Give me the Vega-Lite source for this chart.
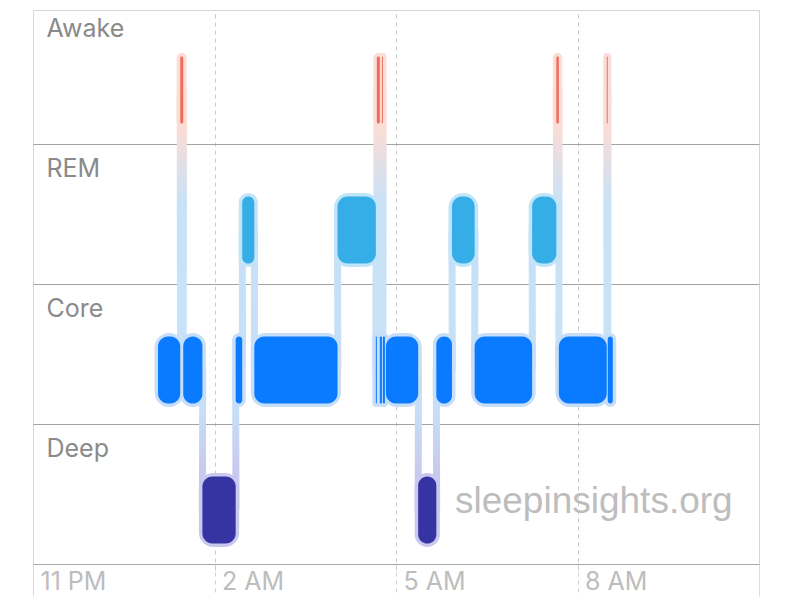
{
  "$schema": "https://vega.github.io/schema/vega-lite/v6.json",
  "width": 726,
  "height": 554,
  "autosize": {"type": "none"},
  "padding": {"left": 33, "top": 10, "right": 53, "bottom": 41},
  "background": "white",
  "config": {"view": {"stroke": "#d6d6d6", "strokeWidth": 1}, "font": "Inter"},
  "data": {
    "values": [
      {"stage": "Core", "start": "2024-01-02T01:04:00", "end": "2024-01-02T01:26:00"},
      {"stage": "Awake", "start": "2024-01-02T01:26:00", "end": "2024-01-02T01:29:00"},
      {"stage": "Core", "start": "2024-01-02T01:29:00", "end": "2024-01-02T01:48:00"},
      {"stage": "Deep", "start": "2024-01-02T01:48:00", "end": "2024-01-02T02:21:00"},
      {"stage": "Core", "start": "2024-01-02T02:21:00", "end": "2024-01-02T02:27:30"},
      {"stage": "REM", "start": "2024-01-02T02:27:30", "end": "2024-01-02T02:39:30"},
      {"stage": "Core", "start": "2024-01-02T02:39:30", "end": "2024-01-02T04:02:00"},
      {"stage": "REM", "start": "2024-01-02T04:02:00", "end": "2024-01-02T04:40:00"},
      {"stage": "Core", "start": "2024-01-02T04:40:00", "end": "2024-01-02T04:41:00"},
      {"stage": "Awake", "start": "2024-01-02T04:41:00", "end": "2024-01-02T04:44:00"},
      {"stage": "Core", "start": "2024-01-02T04:44:00", "end": "2024-01-02T04:46:00"},
      {"stage": "Awake", "start": "2024-01-02T04:46:00", "end": "2024-01-02T04:47:00"},
      {"stage": "Core", "start": "2024-01-02T04:47:00", "end": "2024-01-02T04:49:00"},
      {"stage": "Core", "start": "2024-01-02T04:50:00", "end": "2024-01-02T05:22:00"},
      {"stage": "Deep", "start": "2024-01-02T05:22:00", "end": "2024-01-02T05:40:00"},
      {"stage": "Core", "start": "2024-01-02T05:40:00", "end": "2024-01-02T05:55:30"},
      {"stage": "REM", "start": "2024-01-02T05:55:30", "end": "2024-01-02T06:18:00"},
      {"stage": "Core", "start": "2024-01-02T06:18:00", "end": "2024-01-02T07:15:00"},
      {"stage": "REM", "start": "2024-01-02T07:15:00", "end": "2024-01-02T07:39:00"},
      {"stage": "Awake", "start": "2024-01-02T07:39:00", "end": "2024-01-02T07:41:30"},
      {"stage": "Core", "start": "2024-01-02T07:41:30", "end": "2024-01-02T08:29:00"},
      {"stage": "Awake", "start": "2024-01-02T08:29:00", "end": "2024-01-02T08:30:00"},
      {"stage": "Core", "start": "2024-01-02T08:30:00", "end": "2024-01-02T08:35:00"}
    ]
  },
  "encoding": {
    "x": {
      "field": "start",
      "type": "temporal",
      "scale": {"domain": [{"year": 2024, "month": 1, "date": 1, "hours": 23}, {"year": 2024, "month": 1, "date": 2, "hours": 11}]},
      "axis": {
        "title": null,
        "values": [
          {"year": 2024, "month": 1, "date": 1, "hours": 23},
          {"year": 2024, "month": 1, "date": 2, "hours": 2},
          {"year": 2024, "month": 1, "date": 2, "hours": 5},
          {"year": 2024, "month": 1, "date": 2, "hours": 8},
          {"year": 2024, "month": 1, "date": 2, "hours": 11}
        ],
        "labelExpr": "hours(datum.value) === 11 ? '' : timeFormat(datum.value, '%-I %p')",
        "domain": true,
        "domainColor": "#a8a8a8",
        "ticks": true,
        "tickSize": 32,
        "tickColor": "#d0d0d0",
        "tickDash": {"condition": {"test": "hours(datum.value) === 23 || hours(datum.value) === 11", "value": [1, 0]}, "value": [4, 4]},
        "grid": true,
        "gridColor": "#c8c8c8",
        "gridDash": [4, 4],
        "gridOpacity": {"condition": {"test": "hours(datum.value) === 23 || hours(datum.value) === 11", "value": 0}, "value": 1},
        "labelAlign": "left",
        "labelBaseline": "alphabetic",
        "labelOffset": 7,
        "labelPadding": -7,
        "labelColor": "#bdbdbd",
        "labelFont": "Inter",
        "labelFontSize": 25,
        "labelFontWeight": 400,
        "labelOverlap": false,
        "labelBound": false,
        "labelFlush": false
      }
    },
    "y": {
      "field": "stage",
      "type": "nominal",
      "scale": {"domain": ["Awake", "REM", "Core", "Deep"], "range": [-6, 554]},
      "axis": {
        "title": null,
        "domain": false,
        "ticks": false,
        "bandPosition": 0,
        "grid": true,
        "gridColor": "#a3a3a3",
        "gridOpacity": {"condition": {"test": "datum.value === 'Awake'", "value": 0}, "value": 1},
        "labelAlign": "left",
        "labelBaseline": "alphabetic",
        "labelPadding": -13,
        "labelOffset": -37,
        "labelColor": "#8a8a8a",
        "labelFont": "Inter",
        "labelFontSize": 25,
        "labelBound": false,
        "labelOverlap": false
      }
    }
  },
  "layer": [
    {
      "transform": [
        {"window": [{"op": "lag", "field": "stage", "as": "prev"}], "sort": [{"field": "start", "order": "ascending"}]},
        {"filter": "datum.prev != null && datum.prev !== datum.stage"}
      ],
      "mark": {"type": "rule", "strokeWidth": 7, "strokeCap": "butt", "x2Offset": 0.3, "yOffset": 16, "y2Offset": 16},
      "encoding": {
        "x2": {"field": "start"},
        "y2": {"field": "prev"},
        "stroke": {
          "condition": [
            {"test": "(datum.stage === 'Awake' && datum.prev === 'REM') || (datum.stage === 'REM' && datum.prev === 'Awake')",
             "value": {"gradient": "linear", "x1": 0, "y1": 0, "x2": 0, "y2": 1, "stops": [{"offset": 0, "color": "#fcdcd6"}, {"offset": 0.25, "color": "#fcdcd6"}, {"offset": 0.8, "color": "#c8e2f7"}, {"offset": 1, "color": "#c8e2f7"}]}},
            {"test": "datum.stage === 'Awake' || datum.prev === 'Awake'",
             "value": {"gradient": "linear", "x1": 0, "y1": 0, "x2": 0, "y2": 1, "stops": [{"offset": 0, "color": "#fcdcd6"}, {"offset": 0.13, "color": "#fcdcd6"}, {"offset": 0.4, "color": "#c8e2f7"}, {"offset": 1, "color": "#c8e2f7"}]}},
            {"test": "datum.stage === 'Deep' || datum.prev === 'Deep'",
             "value": {"gradient": "linear", "x1": 0, "y1": 0, "x2": 0, "y2": 1, "stops": [{"offset": 0, "color": "#c6def7"}, {"offset": 0.3, "color": "#c6def7"}, {"offset": 0.75, "color": "#c9c8ee"}, {"offset": 1, "color": "#c9c8ee"}]}}
          ],
          "value": "#c6e0f7"
        }
      }
    },
    {
      "mark": {"type": "bar", "height": 67, "yOffset": 16, "cornerRadius": 11, "strokeWidth": 7, "strokeJoin": "round"},
      "encoding": {
        "x2": {"field": "end"},
        "fill": {"field": "stage", "type": "nominal", "legend": null, "scale": {"domain": ["Awake", "REM", "Core", "Deep"], "range": ["#fcdcd6", "#c2e4f8", "#c6def7", "#c9c8ee"]}},
        "stroke": {"field": "stage", "type": "nominal", "legend": null, "scale": {"domain": ["Awake", "REM", "Core", "Deep"], "range": ["#fcdcd6", "#c2e4f8", "#c6def7", "#c9c8ee"]}}
      }
    },
    {
      "mark": {"type": "bar", "height": 67, "yOffset": 16, "cornerRadius": 10},
      "encoding": {
        "x2": {"field": "end"},
        "color": {"field": "stage", "type": "nominal", "legend": null, "scale": {"domain": ["Awake", "REM", "Core", "Deep"], "range": ["#ec6f5b", "#35ade6", "#0a7aff", "#3634a3"]}}
      }
    },
    {
      "data": {"values": [{"label": "sleepinsights.org", "t": "2024-01-02T05:58:30", "stage": "Deep"}]},
      "mark": {"type": "text", "font": "Liberation Sans", "fontSize": 37, "fill": "#bdbdbd", "align": "left", "baseline": "alphabetic", "yOffset": 19},
      "encoding": {
        "x": {"field": "t", "type": "temporal"},
        "text": {"field": "label"}
      }
    }
  ]
}
